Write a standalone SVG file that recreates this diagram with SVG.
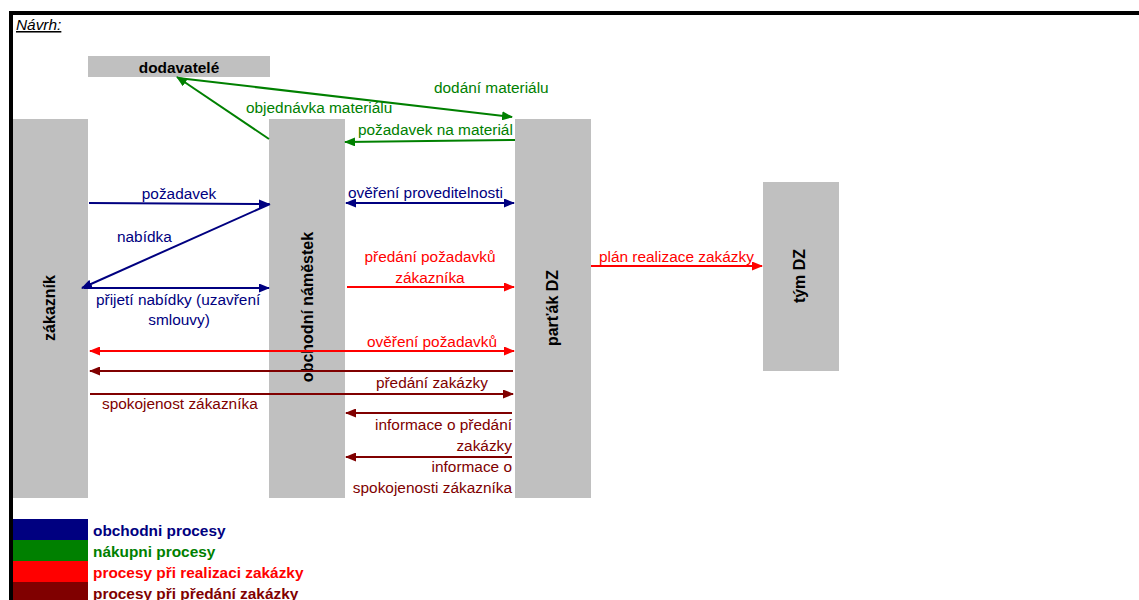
<svg xmlns="http://www.w3.org/2000/svg" width="1139" height="600" viewBox="0 0 1139 600">
<defs>
<style>
.box{fill:#c0c0c0}
.t{font-family:"Liberation Sans",Arial,sans-serif;font-size:15.4px}
.nl{font-family:"Liberation Sans",Arial,sans-serif;font-size:16px;font-weight:bold;fill:#000}
.lg{font-family:"Liberation Sans",Arial,sans-serif;font-size:15.4px;font-weight:bold}
.b{stroke:#000080;fill:none;stroke-width:2}
.g{stroke:#008000;fill:none;stroke-width:2}
.r{stroke:#ff0000;fill:none;stroke-width:2}
.d{stroke:#800000;fill:none;stroke-width:2}
.tb{fill:#000080}.tg{fill:#008000}.tr{fill:#ff0000}.td{fill:#800000}
</style>
<marker id="ab" markerUnits="userSpaceOnUse" markerWidth="11" markerHeight="9" viewBox="0 0 11 9" refX="10" refY="4.5" orient="auto-start-reverse"><path d="M0,0 L11,4.5 L0,9 z" fill="#000080"/></marker>
<marker id="ag" markerUnits="userSpaceOnUse" markerWidth="11" markerHeight="9" viewBox="0 0 11 9" refX="10" refY="4.5" orient="auto-start-reverse"><path d="M0,0 L11,4.5 L0,9 z" fill="#008000"/></marker>
<marker id="ar" markerUnits="userSpaceOnUse" markerWidth="11" markerHeight="9" viewBox="0 0 11 9" refX="10" refY="4.5" orient="auto-start-reverse"><path d="M0,0 L11,4.5 L0,9 z" fill="#ff0000"/></marker>
<marker id="ad" markerUnits="userSpaceOnUse" markerWidth="11" markerHeight="9" viewBox="0 0 11 9" refX="10" refY="4.5" orient="auto-start-reverse"><path d="M0,0 L11,4.5 L0,9 z" fill="#800000"/></marker>
</defs>
<rect width="1139" height="600" fill="#fff"/>
<g id="frame">
<rect x="9" y="11" width="1130" height="4" fill="#000"/>
<rect x="9" y="11" width="4" height="589" fill="#000"/>
<text x="16" y="30" class="t" font-style="italic" text-decoration="underline" fill="#000">Návrh:</text>
</g>
<g id="dodavatele">
<rect class="box" x="88" y="56" width="182" height="21"/>
<text class="t" x="179" y="73" text-anchor="middle" font-weight="bold" fill="#000">dodavatelé</text>
</g>
<g id="zakaznik">
<rect class="box" x="13" y="119" width="75" height="379"/>
<text class="nl" transform="translate(55,308) rotate(-90)" text-anchor="middle">zákazník</text>
</g>
<g id="obchodni-namestek">
<rect class="box" x="269" y="119" width="76" height="379"/>
<text class="nl" transform="translate(313,307) rotate(-90)" text-anchor="middle">obchodní náměstek</text>
</g>
<g id="partak-dz">
<rect class="box" x="515" y="119" width="76" height="379"/>
<text class="nl" transform="translate(558,308) rotate(-90)" text-anchor="middle">parťák DZ</text>
</g>
<g id="tym-dz">
<rect class="box" x="763" y="182" width="76" height="189"/>
<text class="nl" transform="translate(805,276) rotate(-90)" text-anchor="middle">tým DZ</text>
</g>
<g id="connectors">
<line class="g" x1="269" y1="139" x2="177" y2="77" marker-end="url(#ag)"/>
<line class="g" x1="178" y1="78" x2="512" y2="117" marker-end="url(#ag)"/>
<line class="g" x1="515" y1="140" x2="345" y2="142" marker-end="url(#ag)"/>
<text class="t tg" x="434" y="93">dodání materiálu</text>
<text class="t tg" x="246" y="113">objednávka materiálu</text>
<text class="t tg" x="358" y="135">požadavek na materiál</text>

<line class="b" x1="89" y1="203" x2="269" y2="204" marker-end="url(#ab)"/>
<line class="b" x1="270" y1="204" x2="82" y2="288" marker-end="url(#ab)"/>
<line class="b" x1="84" y1="288" x2="269" y2="288" marker-end="url(#ab)"/>
<line class="b" x1="346" y1="203" x2="514" y2="203" marker-start="url(#ab)" marker-end="url(#ab)"/>
<text class="t tb" x="179" y="199" text-anchor="middle">požadavek</text>
<text class="t tb" x="117" y="242">nabídka</text>
<text class="t tb" x="96" y="305">přijetí nabídky (uzavření</text>
<text class="t tb" x="179" y="325" text-anchor="middle">smlouvy)</text>
<text class="t tb" x="348" y="198">ověření proveditelnosti</text>

<line class="r" x1="347" y1="287" x2="514" y2="287" marker-end="url(#ar)"/>
<line class="r" x1="90" y1="351" x2="514" y2="351" marker-start="url(#ar)" marker-end="url(#ar)"/>
<line class="r" x1="591" y1="266" x2="762" y2="266" marker-end="url(#ar)"/>
<text class="t tr" x="430" y="262" text-anchor="middle">předání požadavků</text>
<text class="t tr" x="430" y="283" text-anchor="middle">zákazníka</text>
<text class="t tr" x="497" y="347" text-anchor="end">ověření požadavků</text>
<text class="t tr" x="599" y="262">plán realizace zakázky</text>

<line class="d" x1="513" y1="371" x2="90" y2="371" marker-end="url(#ad)"/>
<line class="d" x1="90" y1="394" x2="513" y2="394" marker-end="url(#ad)"/>
<line class="d" x1="512" y1="413" x2="346" y2="413" marker-end="url(#ad)"/>
<line class="d" x1="512" y1="457" x2="346" y2="457" marker-end="url(#ad)"/>
<text class="t td" x="488" y="388" text-anchor="end">předání zakázky</text>
<text class="t td" x="102" y="409">spokojenost zákazníka</text>
<text class="t td" x="512" y="430" text-anchor="end">informace o předání</text>
<text class="t td" x="512" y="451" text-anchor="end">zakázky</text>
<text class="t td" x="512" y="472" text-anchor="end">informace o</text>
<text class="t td" x="512" y="493" text-anchor="end">spokojenosti zákazníka</text>
</g>
<g id="legend">
<rect x="13" y="519" width="75" height="21" fill="#000080"/>
<rect x="13" y="540" width="75" height="21" fill="#008000"/>
<rect x="13" y="561" width="75" height="21" fill="#ff0000"/>
<rect x="13" y="582" width="75" height="18" fill="#800000"/>
<text class="lg tb" x="93" y="536">obchodni procesy</text>
<text class="lg tg" x="93" y="557">nákupni procesy</text>
<text class="lg tr" x="93" y="578">procesy při realizaci zakázky</text>
<text class="lg td" x="93" y="599">procesy při předání zakázky</text>
</g>
</svg>
